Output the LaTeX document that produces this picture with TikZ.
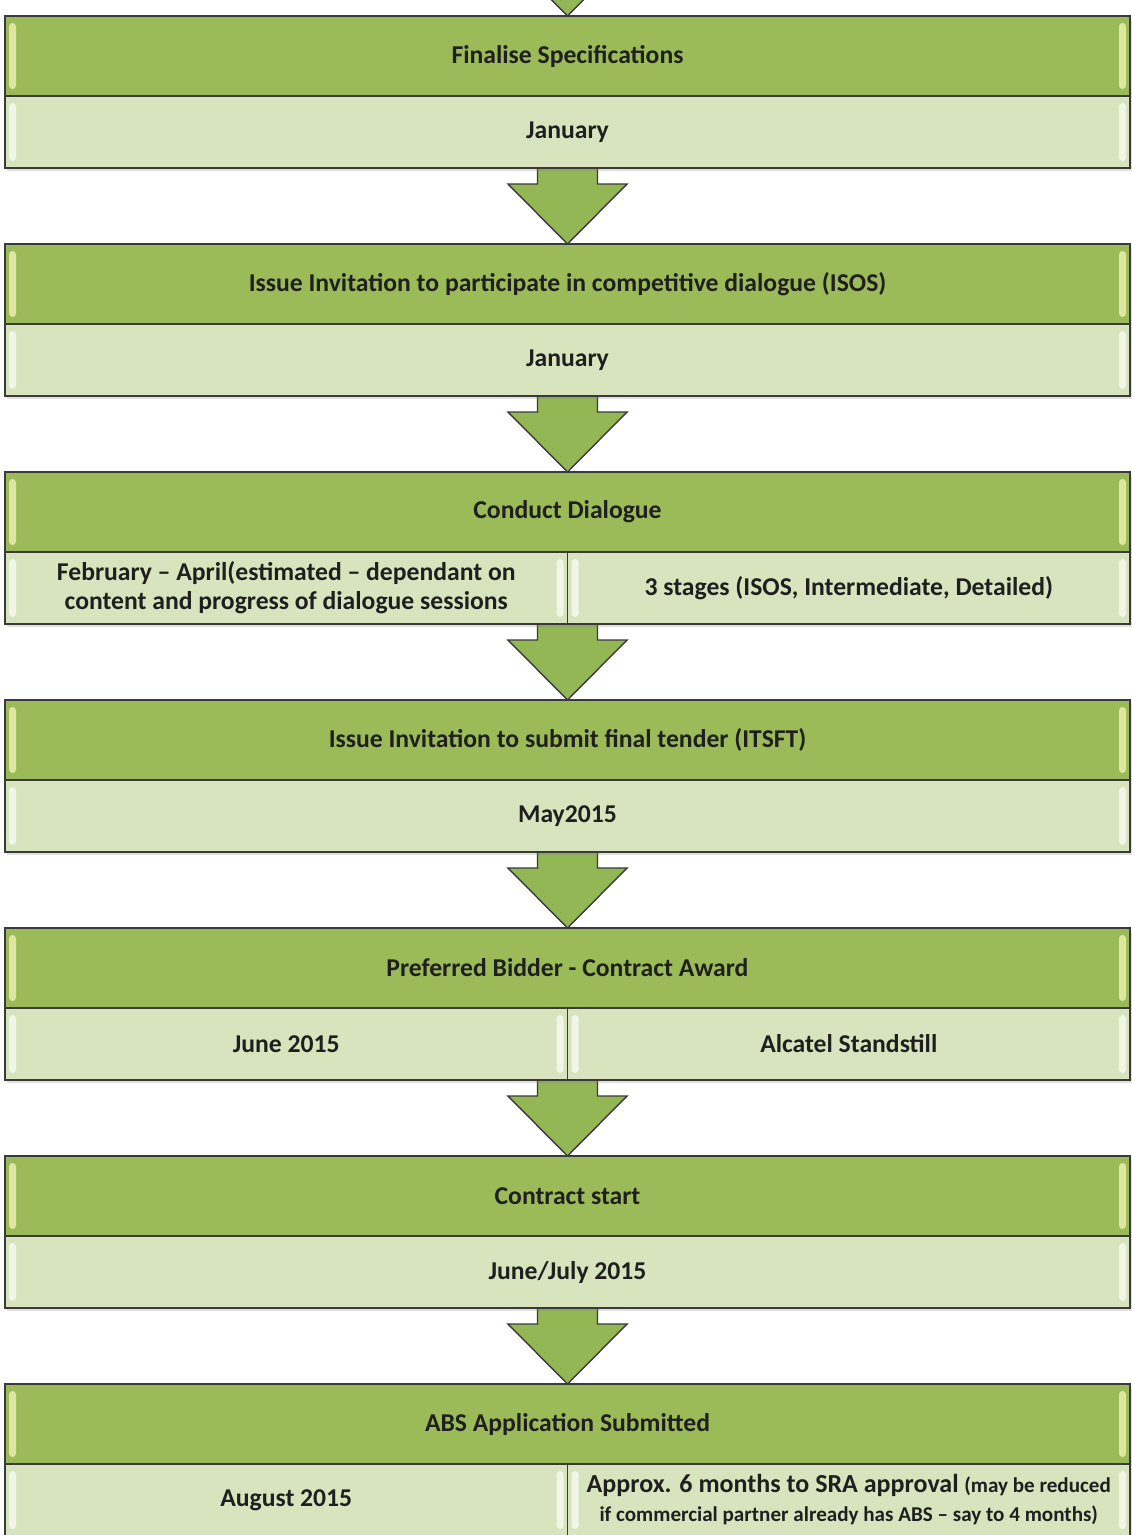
\documentclass[tikz,border=0pt]{standalone}
\usepackage{fontspec}
\setmainfont{Carlito}
\usetikzlibrary{
	positioning,
	calc,
	backgrounds,
	shadows,
}
\definecolor{headgreen}{HTML}{9BBB59}
\definecolor{rowgreen}{HTML}{D7E4BD}
\definecolor{edgegray}{HTML}{3A3A3A}
\definecolor{arrowgreen}{HTML}{94B755}
\tikzset{glint/.style={
		% a soft vertical highlight at both ends of a cell
		path picture={
			\fill[#1,rounded corners=2pt,opacity=.8]
			($(path picture bounding box.north west)+(0.08,-0.14)$) rectangle
			($(path picture bounding box.south west)+(0.22,0.14)$);
			\fill[#1,rounded corners=2pt,opacity=.8]
			($(path picture bounding box.north east)+(-0.08,-0.14)$) rectangle
			($(path picture bounding box.south east)+(-0.22,0.14)$);
		},
}}
\tikzset{stagehead/.style={
		% The shape:
		rectangle,
		% The size:
		minimum width=22.5cm,minimum height=1.6cm,
		inner sep=0pt,outer sep=0pt,
		% The border:
		thick,draw=edgegray,
		% The filling:
		fill=headgreen,
		glint=yellow!25!white!85!headgreen,
		drop shadow={opacity=.25,shadow xshift=.4mm,shadow yshift=-.6mm},
		% the text
		font=\bfseries\fontsize{14.6}{16.5}\selectfont,text=black!88,
}}
\tikzset{stagerow/.style={
		% The shape:
		rectangle,
		% The size:
		minimum width=22.5cm,minimum height=1.44cm,
		inner sep=0pt,outer sep=0pt,
		% The rest
		thick,draw=edgegray,
		fill=rowgreen,
		glint=white!85!rowgreen,
		drop shadow={opacity=.25,shadow xshift=.4mm,shadow yshift=-.6mm},
		font=\bfseries\fontsize{14.6}{16.5}\selectfont,text=black!88,
		align=center,
}}
\tikzset{stagehalf/.style={
		stagerow,
		minimum width=11.25cm,
}}
\tikzset{flowarrow/.style={
		% the block arrow between two stages
		fill=arrowgreen,draw=edgegray,thick,line join=miter,
}}

\begin{document}
\begin{tikzpicture}[node distance=2.96cm]
	\useasboundingbox (0,0) rectangle (22.62,-30.7);
	
	% the stages
	\node[stagehead] (h1) at (11.35,-1.12) {Finalise Specifications};
	\node[stagehead,below=of h1] (h2) {Issue Invitation to participate in competitive dialogue (ISOS)};
	\node[stagehead,below=of h2] (h3) {Conduct Dialogue};
	\node[stagehead,below=of h3] (h4) {Issue Invitation to submit final tender (ITSFT)};
	\node[stagehead,below=of h4] (h5) {Preferred Bidder - Contract Award};
	\node[stagehead,below=of h5] (h6) {Contract start};
	\node[stagehead,below=of h6] (h7) {ABS Application Submitted};
	
	% the dates
	\node[stagerow,below=0pt of h1] (s1) {January};
	\node[stagerow,below=0pt of h2] (s2) {January};
	\node[stagehalf,below right=0pt and 0pt of h3.south west] (s3a) {February -- April(estimated -- dependant on\\content and progress of dialogue sessions};
	\node[stagehalf,right=0pt of s3a] (s3b) {3 stages (ISOS, Intermediate, Detailed)};
	\node[stagerow,below=0pt of h4] (s4) {May2015};
	\node[stagehalf,below right=0pt and 0pt of h5.south west] (s5a) {June 2015};
	\node[stagehalf,right=0pt of s5a] (s5b) {Alcatel Standstill};
	\node[stagerow,below=0pt of h6] (s6) {June/July 2015};
	\node[stagehalf,below right=0pt and 0pt of h7.south west] (s7a) {August 2015};
	\node[stagehalf,right=0pt of s7a] (s7b) {{\fontsize{14.8}{14}\selectfont Approx. 6 months to SRA approval} {\fontsize{12}{14}\selectfont (may be reduced}\\{\fontsize{12}{14}\selectfont if commercial partner already has ABS -- say to 4 months)}};
	
	% arrows behind the boxes
	\begin{scope}[on background layer]
		\clip (0,0) rectangle (22.62,-30.7);
		\foreach \n in {1,...,7}
		\draw[flowarrow] (h\n.north) -- ++(-1.19,1.2) -- ++(0.59,0) -- ++(0,0.8) -- ++(1.2,0) -- ++(0,-0.8) -- ++(0.59,0) -- cycle;
	\end{scope}
\end{tikzpicture}
\end{document}
